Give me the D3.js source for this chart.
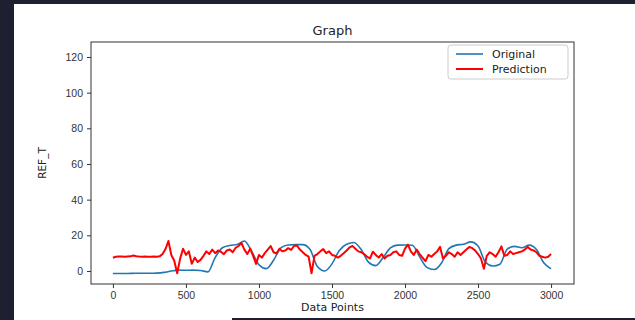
<!DOCTYPE html>
<html>
<head>
<meta charset="utf-8">
<script src="https://cdn.jsdelivr.net/npm/d3@7"></script>
<style>
  body { margin: 0; background: #fff; }
  svg { display: block; font-family: "DejaVu Sans", sans-serif; }
  .tick text { fill: #333; font-size: 10.5px; }
  .tick line { stroke: #333; }
  .domain { stroke: #333; }
</style>
</head>
<body>
<div id="wrapper"></div>
<script>
// values
const xTicks = [0, 500, 1000, 1500, 2000, 2500, 3000]
const yTicks = [0, 20, 40, 60, 80, 100, 120]

// Original series, one value every 50 data points
const originalStep = 50
const originalValues = [
  -1.4, -1.4, -1.4, -1.3, -1.3, -1.3, -1.2, -0.8, 0.0, 0.5,
  0.4, 0.5, 0.3, -0.5, 7.5, 13.0, 14.3, 14.8, 16.8, 11.0,
  3.5, 1.3, 6.0, 13.0, 14.6, 14.8, 14.8, 12.0, 2.5, 0.0,
  4.0, 11.5, 15.0, 16.0, 12.0, 5.0, 3.0, 7.5, 13.0, 14.5,
  14.6, 14.4, 8.0, 2.0, 0.8, 4.5, 12.5, 14.5, 15.0, 16.3,
  14.0, 5.0, 2.8, 3.8, 12.3, 13.8, 13.0, 14.5, 12.0, 4.6,
  1.2,
]

// Prediction series, one value every 20 data points
const predictionStep = 20
const predictionValues = [
  7.4, 8.0, 8.1, 8.1, 8.0, 8.1, 8.2, 8.7, 8.3, 8.1,
  8.0, 8.1, 8.0, 8.0, 8.1, 8.0, 8.2, 9.5, 12.3, 16.8,
  9.0, 5.7, -1.3, 6.8, 12.5, 9.0, 11.0, 4.0, 7.5, 5.0,
  6.2, 8.5, 11.0, 9.5, 12.0, 10.0, 11.5, 10.8, 9.4, 11.5,
  12.0, 10.5, 13.0, 14.0, 15.8, 12.0, 9.5, 12.5, 8.5, 4.0,
  9.0, 7.5, 10.0, 12.0, 14.0, 10.5, 9.8, 12.5, 11.0, 11.5,
  12.8, 11.8, 14.0, 14.3, 12.0, 10.5, 9.0, 8.0, -1.3, 8.5,
  9.5, 11.0, 12.3, 10.0, 11.0, 9.0, 8.5, 7.5, 8.5, 10.0,
  11.5, 13.2, 14.0, 12.5, 11.0, 10.5, 9.5, 8.0, 7.0, 10.8,
  9.0, 7.5, 9.5, 7.0, 8.5, 9.0, 10.5, 11.0, 9.0, 8.5,
  12.5, 14.8, 11.0, 9.0, 12.0, 9.5, 7.5, 5.5, 9.0, 8.0,
  9.5, 11.0, 13.5, 7.0, 8.5, 10.5, 9.5, 8.0, 10.5, 9.0,
  10.5, 12.0, 13.5, 12.8, 11.5, 9.5, 7.0, 1.2, 8.5, 10.5,
  9.5, 8.0, 10.5, 13.8, 8.5, 9.0, 11.0, 9.5, 10.0, 10.5,
  11.0, 12.0, 13.5, 12.0, 11.5, 10.5, 8.5, 8.0, 7.5, 8.0,
  9.5,
]

const seriesNames = ["Original", "Prediction"]
const seriesColors = ["#1f77b4", "#ff0000"]

function drawChart() {

  // 1. Dimensions

  const dimensions = {
    width: 635,
    height: 320,
    margin: { top: 42, right: 61, bottom: 36, left: 91 },
  }
  dimensions.boundedWidth = dimensions.width - dimensions.margin.left - dimensions.margin.right
  dimensions.boundedHeight = dimensions.height - dimensions.margin.top - dimensions.margin.bottom

  const original = originalValues.map((v, i) => ({ x: i * originalStep, y: v }))
  const prediction = predictionValues.map((v, i) => ({ x: i * predictionStep, y: v }))

  // 2. Canvas

  const wrapper = d3.select("#wrapper")
    .append("svg")
      .attr("width", dimensions.width)
      .attr("height", dimensions.height)

  // dark page frame around the screenshot
  wrapper.append("rect")
      .attr("x", 0).attr("y", 0)
      .attr("width", 14).attr("height", dimensions.height)
      .attr("fill", "#1c2030")
  wrapper.append("rect")
      .attr("x", 0).attr("y", 0)
      .attr("width", dimensions.width).attr("height", 4)
      .attr("fill", "#1c2030")
  wrapper.append("rect")
      .attr("x", 232).attr("y", 318)
      .attr("width", dimensions.width - 232).attr("height", 2)
      .attr("fill", "#1c2030")

  const bounds = wrapper.append("g")
      .attr("transform", `translate(${dimensions.margin.left}, ${dimensions.margin.top})`)

  // 3. Scales

  const xScale = d3.scaleLinear()
    .domain([-150, 3157])
    .range([0, dimensions.boundedWidth])

  const yScale = d3.scaleLinear()
    .domain([-7.3, 128.4])
    .range([dimensions.boundedHeight, 0])

  // 4. Lines

  const lineGenerator = d3.line()
    .x(d => xScale(d.x))
    .y(d => yScale(d.y))

  bounds.append("path")
      .attr("d", lineGenerator.curve(d3.curveMonotoneX)(original))
      .attr("fill", "none")
      .attr("stroke", seriesColors[0])
      .attr("stroke-width", 1.6)

  bounds.append("path")
      .attr("d", lineGenerator.curve(d3.curveLinear)(prediction))
      .attr("fill", "none")
      .attr("stroke", seriesColors[1])
      .attr("stroke-width", 2)
      .attr("stroke-linejoin", "round")

  // 5. Axes

  const xAxis = bounds.append("g")
      .attr("transform", `translate(0, ${dimensions.boundedHeight})`)
    .call(d3.axisBottom(xScale).tickValues(xTicks).tickSize(4).tickPadding(4).tickFormat(d3.format("d")))
  xAxis.select(".domain").remove()

  const yAxis = bounds.append("g")
    .call(d3.axisLeft(yScale).tickValues(yTicks).tickSize(4).tickPadding(4))
  yAxis.select(".domain").remove()

  bounds.append("rect")
      .attr("width", dimensions.boundedWidth)
      .attr("height", dimensions.boundedHeight)
      .attr("fill", "none")
      .attr("stroke", "#333")
      .attr("stroke-width", 1)

  // 6. Labels

  wrapper.append("text")
      .attr("x", dimensions.margin.left + dimensions.boundedWidth / 2)
      .attr("y", 35)
      .attr("text-anchor", "middle")
      .attr("font-size", 13)
      .attr("fill", "#222")
      .text("Graph")

  wrapper.append("text")
      .attr("x", dimensions.margin.left + dimensions.boundedWidth / 2)
      .attr("y", 311)
      .attr("text-anchor", "middle")
      .attr("font-size", 11)
      .attr("fill", "#222")
      .text("Data Points")

  wrapper.append("text")
      .attr("transform", `translate(46, ${dimensions.margin.top + dimensions.boundedHeight / 2}) rotate(-90)`)
      .attr("text-anchor", "middle")
      .attr("font-size", 10.5)
      .attr("fill", "#222")
      .text("REF_T")

  // 7. Legend

  const legend = bounds.append("g")
      .attr("transform", `translate(${dimensions.boundedWidth - 126}, 3)`)

  legend.append("rect")
      .attr("width", 120)
      .attr("height", 34)
      .attr("rx", 3)
      .attr("fill", "#fff")
      .attr("stroke", "#ccc")

  seriesNames.forEach((name, i) => {
    const row = legend.append("g")
        .attr("transform", `translate(8, ${9 + i * 15})`)
    row.append("line")
        .attr("x1", 0).attr("x2", 27)
        .attr("stroke", seriesColors[i])
        .attr("stroke-width", i ? 2 : 1.6)
    row.append("text")
        .attr("x", 36)
        .attr("y", 4)
        .attr("font-size", 11)
        .attr("fill", "#222")
        .text(name)
  })
}
drawChart()
</script>
</body>
</html>
